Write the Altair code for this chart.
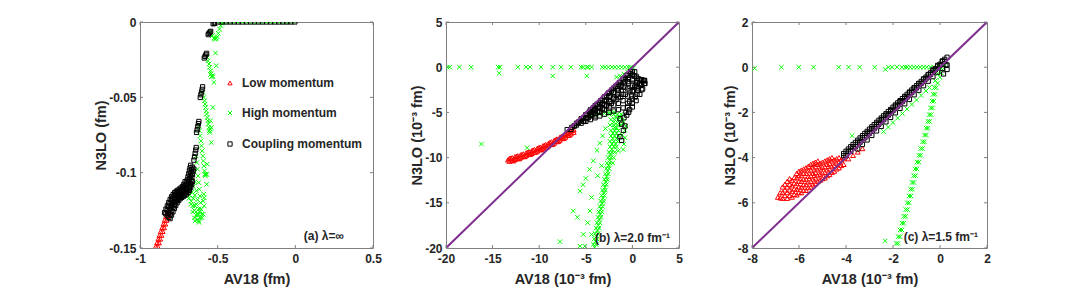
import altair as alt
import pandas as pd

FONT = "Liberation Sans"
TXT = "#262626"
BOX = "#808080"
RED = "#FF0000"
GREEN = "#00FF00"
BLACK = "#000000"
PURPLE = "#7E2F8E"
X_SHAPE = "M-1,-1L1,1M1,-1L-1,1"

legend_labels = ["Low momentum", "High momentum", "Coupling momentum"]

# ---------------- panel (a) ----------------
a_xticks = [-1, -0.5, 0, 0.5]
a_yticks = [-0.15, -0.1, -0.05, 0]

a_red = [
    (-0.906, -0.1515), (-0.894, -0.1515), (-0.898, -0.1490), (-0.886, -0.1490),
    (-0.890, -0.1465), (-0.878, -0.1465), (-0.882, -0.1440), (-0.870, -0.1440),
    (-0.874, -0.1415), (-0.862, -0.1415), (-0.866, -0.1390), (-0.854, -0.1390),
    (-0.857, -0.1365), (-0.845, -0.1365), (-0.849, -0.1340), (-0.837, -0.1340),
    (-0.841, -0.1315), (-0.829, -0.1315), (-0.833, -0.1290), (-0.821, -0.1290),
    (-0.825, -0.1265), (-0.813, -0.1265),
]

a_green_row = [-0.490, -0.460, -0.430, -0.400, -0.370, -0.340, -0.310, -0.280, -0.250,
               -0.220, -0.190, -0.160, -0.130, -0.100, -0.070, -0.040, -0.010]

a_green = [
    (-0.546, -0.0069), (-0.535, -0.0091), (-0.524, -0.0106), (-0.519, -0.0113), (-0.514, -0.0113),
    (-0.509, -0.0106), (-0.503, -0.0098), (-0.496, -0.0075), (-0.488, -0.0047), (-0.479, -0.0024),
    (-0.471, -0.0009),
    (-0.567, -0.0235), (-0.563, -0.0257), (-0.556, -0.0279), (-0.552, -0.0301), (-0.546, -0.0324),
    (-0.541, -0.0341), (-0.535, -0.0357), (-0.531, -0.0363), (-0.514, -0.0206), (-0.509, -0.0290),
    (-0.524, -0.0401), (-0.546, -0.0349), (-0.541, -0.0363),
    (-0.595, -0.0468), (-0.589, -0.0501), (-0.585, -0.0523), (-0.581, -0.0545), (-0.578, -0.0567),
    (-0.574, -0.0589), (-0.571, -0.0611), (-0.567, -0.0634), (-0.563, -0.0656), (-0.560, -0.0678),
    (-0.556, -0.0700), (-0.553, -0.0722), (-0.550, -0.0733), (-0.531, -0.0567), (-0.546, -0.0656),
    (-0.541, -0.0700), (-0.548, -0.0711), (-0.541, -0.0800),
    (-0.621, -0.0689), (-0.617, -0.0722), (-0.612, -0.0756), (-0.608, -0.0789), (-0.604, -0.0822),
    (-0.600, -0.0855), (-0.596, -0.0889), (-0.592, -0.0922), (-0.589, -0.0955), (-0.585, -0.0988),
    (-0.582, -0.1011), (-0.579, -0.1021), (-0.567, -0.0944), (-0.570, -0.1011), (-0.576, -0.1011),
    (-0.571, -0.1077),
    (-0.638, -0.0889), (-0.634, -0.0933), (-0.630, -0.0977), (-0.626, -0.1021), (-0.622, -0.1066),
    (-0.618, -0.1110), (-0.614, -0.1154), (-0.610, -0.1199), (-0.606, -0.1243), (-0.603, -0.1276),
    (-0.600, -0.1299), (-0.589, -0.1143), (-0.593, -0.1188), (-0.587, -0.1221), (-0.593, -0.1276),
    (-0.587, -0.1166),
    (-0.690, -0.112), (-0.680, -0.115), (-0.670, -0.119), (-0.660, -0.122), (-0.650, -0.125),
    (-0.640, -0.128), (-0.675, -0.108), (-0.666, -0.113), (-0.657, -0.117), (-0.648, -0.122),
    (-0.639, -0.126), (-0.630, -0.131), (-0.665, -0.103), (-0.656, -0.109), (-0.647, -0.115),
    (-0.638, -0.121), (-0.629, -0.127), (-0.620, -0.133), (-0.655, -0.099), (-0.646, -0.106),
    (-0.637, -0.112), (-0.629, -0.118), (-0.620, -0.124), (-0.612, -0.130), (-0.685, -0.117),
    (-0.672, -0.121), (-0.661, -0.126), (-0.650, -0.130), (-0.625, -0.128), (-0.615, -0.126),
    (-0.622, -0.132), (-0.645, -0.132),
]

a_black_row = [-0.497, -0.471, -0.445, -0.419, -0.393, -0.367, -0.341, -0.315, -0.289, -0.263,
               -0.237, -0.211, -0.185, -0.159, -0.133, -0.107, -0.081, -0.055, -0.029, -0.003]

a_black = [
    (-0.824, -0.1285), (-0.815, -0.1262), (-0.806, -0.1240), (-0.797, -0.1218), (-0.788, -0.1198),
    (-0.779, -0.1180), (-0.769, -0.1165), (-0.759, -0.1153), (-0.749, -0.1144), (-0.739, -0.1137),
    (-0.729, -0.1130), (-0.719, -0.1122), (-0.709, -0.1112), (-0.700, -0.1098), (-0.692, -0.1080),
    (-0.686, -0.1060), (-0.681, -0.1040), (-0.676, -0.1020), (-0.672, -0.1000), (-0.668, -0.0980),
    (-0.664, -0.0963),
    (-0.834, -0.1273), (-0.825, -0.1250), (-0.816, -0.1228), (-0.807, -0.1206), (-0.798, -0.1186),
    (-0.789, -0.1168), (-0.779, -0.1153), (-0.769, -0.1141), (-0.759, -0.1132), (-0.749, -0.1125),
    (-0.739, -0.1118), (-0.729, -0.1110), (-0.719, -0.1100), (-0.710, -0.1086), (-0.702, -0.1068),
    (-0.696, -0.1048), (-0.691, -0.1028), (-0.686, -0.1008), (-0.682, -0.0988), (-0.678, -0.0968),
    (-0.674, -0.0951),
    (-0.814, -0.1297), (-0.805, -0.1274), (-0.796, -0.1252), (-0.787, -0.1230), (-0.778, -0.1210),
    (-0.769, -0.1192), (-0.759, -0.1177), (-0.749, -0.1165), (-0.739, -0.1156), (-0.729, -0.1149),
    (-0.719, -0.1142), (-0.709, -0.1134), (-0.699, -0.1124), (-0.690, -0.1110), (-0.682, -0.1092),
    (-0.676, -0.1072), (-0.671, -0.1052), (-0.666, -0.1032), (-0.662, -0.1012), (-0.658, -0.0992),
    (-0.654, -0.0975),
    (-0.842, -0.1265), (-0.833, -0.1242), (-0.824, -0.1220), (-0.815, -0.1198), (-0.806, -0.1178),
    (-0.797, -0.1160), (-0.787, -0.1145), (-0.777, -0.1133), (-0.767, -0.1124), (-0.757, -0.1117),
    (-0.747, -0.1110), (-0.737, -0.1102), (-0.727, -0.1092), (-0.718, -0.1078), (-0.710, -0.1060),
    (-0.806, -0.1305), (-0.797, -0.1282), (-0.788, -0.1260), (-0.779, -0.1238), (-0.770, -0.1218),
    (-0.761, -0.1200), (-0.751, -0.1185), (-0.741, -0.1173), (-0.731, -0.1164), (-0.721, -0.1157),
    (-0.711, -0.1150), (-0.701, -0.1142), (-0.691, -0.1132), (-0.682, -0.1118), (-0.674, -0.1100),
    (-0.668, -0.1080), (-0.663, -0.1060),
    (-0.653, -0.0917), (-0.649, -0.0895), (-0.645, -0.0872), (-0.641, -0.0850), (-0.638, -0.0833),
    (-0.636, -0.0733), (-0.632, -0.0715), (-0.628, -0.0695), (-0.624, -0.0675), (-0.621, -0.0660),
    (-0.612, -0.0501), (-0.608, -0.0483), (-0.604, -0.0465), (-0.600, -0.0447), (-0.597, -0.0430),
    (-0.586, -0.0239), (-0.581, -0.0228), (-0.576, -0.0218), (-0.571, -0.0208),
    (-0.561, -0.0084), (-0.556, -0.0075), (-0.550, -0.0068), (-0.545, -0.0062),
    (-0.529, -0.0012), (-0.521, -0.0009), (-0.514, -0.0006),
]

# ---------------- panel (b) ----------------
b_ticks = [-20, -15, -10, -5, 0, 5]

b_red = [
    (-13.35, -10.25),
    (-13.2, -10.10), (-13.2, -10.40), (-12.9, -10.00), (-12.9, -10.30), (-12.6, -9.90), (-12.6, -10.20),
    (-12.3, -9.80), (-12.3, -10.10), (-12.0, -9.70), (-12.0, -10.00), (-11.7, -9.59), (-11.7, -9.89),
    (-11.4, -9.47), (-11.4, -9.77), (-11.1, -9.35), (-11.1, -9.65), (-10.8, -9.23), (-10.8, -9.53),
    (-10.5, -9.10), (-10.5, -9.40), (-10.2, -8.97), (-10.2, -9.27), (-9.9, -8.84), (-9.9, -9.14),
    (-9.6, -8.70), (-9.6, -9.00), (-9.3, -8.55), (-9.3, -8.85), (-9.0, -8.40), (-9.0, -8.70),
    (-8.7, -8.25), (-8.7, -8.55), (-8.4, -8.10), (-8.4, -8.40), (-8.1, -7.94), (-8.1, -8.24),
    (-7.8, -7.77), (-7.8, -8.07), (-7.5, -7.60), (-7.5, -7.90), (-7.2, -7.43), (-7.2, -7.73),
    (-6.9, -7.25), (-6.9, -7.55), (-6.6, -7.07), (-6.6, -7.37), (-6.3, -6.90), (-6.3, -7.20),
    (-13.05, -10.05), (-12.45, -9.85), (-11.85, -9.65), (-11.25, -9.41), (-10.65, -9.16),
    (-10.05, -8.90), (-9.45, -8.63), (-8.85, -8.33), (-8.25, -8.02), (-7.65, -7.69),
    (-7.05, -7.34), (-6.45, -6.98),
    (-12.75, -10.35), (-12.15, -10.12), (-11.55, -9.88), (-10.95, -9.64), (-10.35, -9.38),
    (-9.75, -9.11), (-9.15, -8.82), (-8.55, -8.52), (-7.95, -8.20), (-7.35, -7.86),
    (-6.75, -7.50),
]

b_green_row = [-19.86, -19.6, -18.57, -17.3, -14.4, -14.2, -12.3, -11.4, -11.0, -9.8, -8.55, -7.66,
               -6.6, -5.5, -5.27, -4.9, -4.73, -4.37, -3.23, -2.94, -2.58, -2.2, -1.87, -1.5,
               -1.15, -0.8, -0.44, -0.2]

b_green = [
    (-14.3, -0.67), (-8.55, -0.96), (-4.9, -0.96), (-16.2, -8.5), (-11.3, -8.9),
    (0.1, -0.1), (-0.2, -0.35), (-0.5, -0.55), (-0.9, -0.75), (-1.3, -0.95), (-1.7, -1.1),
    (-4.5, -5.45), (-4.0, -5.3), (-3.5, -5.2), (-3.0, -5.1), (-2.5, -5.0), (-2.0, -4.95),
    (-2.5, -5.2), (-2.0, -5.2), (-1.6, -5.2), (-1.2, -5.2), (-1.8, -5.5), (-1.4, -5.5),
    (-2.3, -5.8), (-1.9, -5.8), (-1.5, -5.8), (-1.1, -5.8), (-2.0, -6.1), (-1.6, -6.1),
    (-2.4, -6.4), (-2.0, -6.4), (-1.6, -6.4), (-1.2, -6.4), (-1.9, -6.7), (-1.7, -6.7),
    (-2.3, -7.0), (-1.9, -7.0), (-1.5, -7.0), (-2.1, -7.3), (-1.7, -7.3),
    (-2.3, -7.6), (-1.9, -7.6), (-1.5, -7.6), (-2.1, -7.9), (-1.7, -7.9),
    (-2.4, -8.2), (-2.0, -8.2), (-1.6, -8.2), (-2.2, -8.5), (-1.8, -8.5),
    (-2.4, -8.8), (-2.0, -8.8), (-1.7, -8.8), (-2.2, -9.1),
    (-2.5, -9.4), (-2.2, -9.4), (-1.9, -9.4), (-2.35, -9.7),
    (-2.6, -10.0), (-2.3, -10.0), (-2.0, -10.0), (-2.45, -10.3),
    (-2.7, -10.6), (-2.4, -10.6), (-2.1, -10.6), (-2.55, -10.9),
    (-2.8, -11.2), (-2.5, -11.2), (-2.65, -11.5), (-2.9, -11.8), (-2.6, -11.8), (-2.75, -12.1),
    (-3.0, -12.4), (-2.7, -12.4), (-2.85, -12.7), (-3.1, -13.0), (-2.8, -13.0), (-2.95, -13.3),
    (-3.2, -13.6), (-2.9, -13.6), (-3.05, -13.9), (-3.3, -14.2), (-3.0, -14.2), (-3.15, -14.5),
    (-3.4, -14.8), (-3.1, -14.8), (-3.25, -15.1), (-3.5, -15.4), (-3.2, -15.4), (-3.35, -15.7),
    (-3.6, -16.0), (-3.3, -16.0), (-3.45, -16.3), (-3.7, -16.6), (-3.4, -16.6), (-3.55, -16.9),
    (-3.8, -17.2), (-3.5, -17.2), (-3.65, -17.5), (-3.9, -17.8), (-3.6, -17.8), (-3.75, -18.1),
    (-4.0, -18.4), (-3.7, -18.4), (-3.85, -18.7), (-4.1, -19.0), (-3.8, -19.0), (-3.95, -19.3),
    (-4.2, -19.6), (-3.9, -19.6), (-4.05, -19.9),
    (-2.9, -6.8), (-3.2, -7.6), (-3.5, -8.4), (-3.8, -9.2), (-4.2, -10.35), (-4.6, -11.3),
    (-5.0, -12.3), (-5.3, -13.0), (-5.6, -13.7),
    (-7.77, -19.3), (-6.34, -15.9), (-5.27, -18.5), (-4.38, -18.5), (-5.62, -19.8), (-5.1, -19.8),
    (-3.3, -10.9), (-3.73, -12.0), (-4.38, -14.4), (-4.55, -15.9), (-1.51, -9.25), (-4.8, -17.2),
    (-5.9, -16.6),
    (-1.3, -5.5), (-1.0, -6.0), (-0.8, -7.0), (-1.1, -7.5), (-0.7, -6.5), (-0.9, -8.5),
    (-1.0, -9.1), (-0.8, -7.8),
]

b_black = [
    (-7.0, -6.9), (-6.5, -6.65), (-6.0, -6.4), (-6.0, -6.2),
    (-5.5, -6.2), (-5.5, -5.95), (-5.5, -5.7), (-5.0, -6.0), (-5.0, -5.6), (-5.0, -5.25),
    (-4.5, -5.8), (-4.5, -5.4), (-4.5, -5.0), (-4.5, -4.7),
    (-4.0, -5.6), (-4.0, -5.1), (-4.0, -4.6), (-4.0, -4.25),
    (-3.5, -5.4), (-3.5, -4.9), (-3.5, -4.4), (-3.5, -3.9),
    (-3.0, -5.2), (-3.0, -4.7), (-3.0, -4.2), (-3.0, -3.7), (-3.0, -3.3),
    (-2.5, -5.0), (-2.5, -4.4), (-2.5, -3.8), (-2.5, -3.2), (-2.5, -2.8),
    (-2.0, -4.85), (-2.0, -4.2), (-2.0, -3.5), (-2.0, -2.8), (-2.0, -2.3),
    (-1.5, -4.7), (-1.5, -4.0), (-1.5, -3.3), (-1.5, -2.6), (-1.5, -1.9),
    (-1.0, -4.5), (-1.0, -3.7), (-1.0, -3.0), (-1.0, -2.2), (-1.0, -1.4),
    (-0.5, -4.0), (-0.5, -3.2), (-0.5, -2.4), (-0.5, -1.6), (-0.5, -0.9),
    (0.0, -3.5), (0.0, -2.7), (0.0, -2.0), (0.0, -1.3), (0.0, -0.5),
    (0.5, -3.0), (0.5, -2.3), (0.5, -1.7), (0.5, -1.2),
    (1.0, -2.5), (1.0, -1.9), (1.0, -1.4), (1.3, -1.8), (1.3, -1.45),
    (-6.25, -6.5), (-5.75, -6.05), (-5.25, -5.6), (-4.75, -5.15), (-4.25, -4.65), (-3.75, -4.15),
    (-3.25, -3.65), (-2.75, -3.15), (-2.25, -2.65), (-1.75, -2.15), (-1.25, -1.7), (-0.75, -1.2),
    (-0.25, -0.7), (0.25, -0.5),
    (-5.25, -5.95), (-4.75, -5.6), (-4.25, -5.25), (-3.75, -4.9), (-3.25, -4.6), (-2.75, -4.3),
    (-2.25, -4.0), (-1.75, -3.6), (-1.25, -3.3), (-0.75, -3.0), (-0.25, -2.6), (0.25, -2.2),
    (0.75, -1.8),
    (-6.6, -6.9), (-6.2, -6.5), (-5.8, -6.1), (-5.4, -5.7), (-5.0, -5.3), (-4.6, -4.9),
    (-4.2, -4.5), (-3.8, -4.1), (-3.4, -3.7), (-3.0, -3.3), (-2.6, -2.9), (-2.2, -2.5),
    (-1.8, -2.1), (-1.4, -1.7), (-1.0, -1.3), (-0.6, -0.9), (-0.2, -0.5),
    (-5.2, -6.0), (-4.8, -5.6), (-4.4, -5.2), (-4.0, -4.8), (-3.6, -4.4), (-3.2, -4.0),
    (-2.8, -3.6), (-2.4, -3.2), (-2.0, -2.8), (-1.6, -2.4), (-1.2, -2.0), (-0.8, -1.6),
    (-0.4, -1.2), (0.0, -0.8),
    (-4.0, -5.4), (-3.6, -5.0), (-3.2, -4.6), (-2.8, -4.2), (-2.4, -3.8), (-2.0, -3.4),
    (-1.6, -3.0), (-1.2, -2.6), (-0.8, -2.2), (-0.4, -1.8), (0.0, -1.4), (0.4, -1.0),
    (-0.9, -5.6), (-0.7, -5.0), (-0.5, -4.4), (-0.3, -3.8), (-0.1, -3.2), (0.1, -2.6), (0.3, -2.0),
    (0.5, -1.5), (-0.6, -5.3), (-0.3, -4.7), (0.0, -4.0), (0.3, -3.3), (0.6, -2.6), (0.9, -2.0),
    (1.2, -1.5), (-0.4, -5.0), (0.0, -4.4), (0.4, -3.7), (0.8, -3.0), (1.1, -2.4), (1.35, -1.8),
    (0.7, -1.3), (1.0, -1.4), (1.3, -1.5), (0.2, -1.0), (-0.2, -0.5),
    (-1.33, -5.7), (-1.15, -6.3), (-0.97, -7.0), (-1.33, -7.7), (-1.15, -8.1), (-0.8, -6.5),
]

# ---------------- panel (c) ----------------
c_ticks = [-8, -6, -4, -2, 0, 2]

c_red = [
    (-6.9, -5.75),
    (-6.7, -5.80), (-6.7, -5.55), (-6.7, -5.30),
    (-6.5, -5.80), (-6.5, -5.55), (-6.5, -5.30), (-6.5, -5.05),
    (-6.3, -5.75), (-6.3, -5.50), (-6.3, -5.25), (-6.3, -5.00),
    (-6.1, -5.65), (-6.1, -5.40), (-6.1, -5.15), (-6.1, -4.90), (-6.1, -4.70),
    (-5.9, -5.55), (-5.9, -5.30), (-5.9, -5.05), (-5.9, -4.80), (-5.9, -4.55),
    (-5.7, -5.45), (-5.7, -5.20), (-5.7, -4.95), (-5.7, -4.70), (-5.7, -4.45),
    (-5.5, -5.30), (-5.5, -5.05), (-5.5, -4.80), (-5.5, -4.55), (-5.5, -4.30),
    (-5.3, -5.15), (-5.3, -4.90), (-5.3, -4.65), (-5.3, -4.40), (-5.3, -4.20),
    (-5.1, -5.00), (-5.1, -4.75), (-5.1, -4.50), (-5.1, -4.25),
    (-4.9, -4.90), (-4.9, -4.65), (-4.9, -4.40), (-4.9, -4.15),
    (-4.7, -4.75), (-4.7, -4.50), (-4.7, -4.25), (-4.7, -4.05),
    (-4.5, -4.60), (-4.5, -4.35), (-4.5, -4.10),
    (-4.3, -4.45), (-4.3, -4.20), (-4.3, -4.00),
    (-4.1, -4.30), (-4.1, -4.05),
    (-6.8, -5.78), (-6.8, -5.55),
    (-6.6, -5.68), (-6.6, -5.43), (-6.6, -5.18),
    (-6.4, -5.68), (-6.4, -5.43), (-6.4, -5.18), (-6.4, -4.93),
    (-6.2, -5.63), (-6.2, -5.38), (-6.2, -5.13), (-6.2, -4.88),
    (-6.0, -5.55), (-6.0, -5.30), (-6.0, -5.05), (-6.0, -4.80), (-6.0, -4.60),
    (-5.8, -5.45), (-5.8, -5.20), (-5.8, -4.95), (-5.8, -4.70), (-5.8, -4.50),
    (-5.6, -5.33), (-5.6, -5.08), (-5.6, -4.83), (-5.6, -4.58), (-5.6, -4.38),
    (-5.4, -5.20), (-5.4, -4.95), (-5.4, -4.70), (-5.4, -4.45), (-5.4, -4.25),
    (-5.2, -5.05), (-5.2, -4.80), (-5.2, -4.55), (-5.2, -4.30), (-5.2, -4.15),
    (-5.0, -4.93), (-5.0, -4.68), (-5.0, -4.43), (-5.0, -4.20),
    (-4.8, -4.80), (-4.8, -4.55), (-4.8, -4.30), (-4.8, -4.10),
    (-4.6, -4.65), (-4.6, -4.40), (-4.6, -4.15), (-4.6, -4.00),
    (-4.4, -4.50), (-4.4, -4.25), (-4.4, -4.05),
    (-4.2, -4.35), (-4.2, -4.10),
    (-3.9, -4.05), (-3.7, -3.90), (-3.5, -3.75), (-3.3, -3.60),
]

c_green_row = [
    (-7.89, -0.05), (-6.75, 0), (-6.01, 0), (-5.38, 0), (-4.31, 0), (-3.89, 0), (-3.42, 0),
    (-2.78, 0), (-2.33, -0.1), (-2.19, 0), (-2.04, 0), (-1.83, 0), (-1.62, 0), (-1.48, 0),
    (-1.40, 0), (-1.26, 0), (-1.12, 0), (-0.98, 0), (-0.84, 0), (-0.70, 0), (-0.56, 0),
    (-0.41, 0), (-0.27, 0), (-0.13, 0), (0.0, 0),
]

c_green = [
    (-3.74, -3.03), (-2.33, -7.69),
    (-2.4, -2.85), (-2.2, -2.65), (-2.0, -2.45), (-1.8, -2.25), (-1.6, -2.05), (-1.4, -1.85),
    (-1.2, -1.65), (-1.0, -1.45), (-0.8, -1.25), (-0.6, -1.05), (-0.45, -0.9),
    (-0.1, -0.3), (0.1, -0.1), (0.2, 0.1), (0.0, -0.45), (-0.2, -0.6), (-0.1, -0.7), (0.05, -0.25),
    (-0.24, -0.9), (-0.16, -0.9), (-0.29, -1.2), (-0.21, -1.2), (-0.34, -1.5), (-0.26, -1.5),
    (-0.40, -1.8), (-0.32, -1.8), (-0.46, -2.1), (-0.38, -2.1), (-0.52, -2.4), (-0.44, -2.4),
    (-0.59, -2.7), (-0.51, -2.7), (-0.66, -3.0), (-0.58, -3.0), (-0.74, -3.3), (-0.66, -3.3),
    (-0.82, -3.6), (-0.74, -3.6), (-0.90, -3.9), (-0.82, -3.9), (-0.98, -4.2), (-0.90, -4.2),
    (-1.06, -4.5), (-0.98, -4.5), (-1.12, -4.8), (-1.04, -4.8), (-1.19, -5.1), (-1.11, -5.1),
    (-1.25, -5.4), (-1.17, -5.4), (-1.32, -5.7), (-1.24, -5.7), (-1.39, -6.0), (-1.31, -6.0),
    (-1.46, -6.3), (-1.38, -6.3), (-1.54, -6.6), (-1.46, -6.6), (-1.62, -6.9), (-1.54, -6.9),
    (-1.70, -7.2), (-1.62, -7.2), (-1.78, -7.5), (-1.70, -7.5), (-1.86, -7.8), (-1.78, -7.8),
    (-1.94, -8.1), (-1.86, -8.1),
]

c_black = [
    (-4.1, -3.82), (-4.0, -3.72), (-3.9, -3.62), (-3.8, -3.52), (-3.7, -3.42), (-3.6, -3.33),
    (-3.5, -3.23), (-3.4, -3.13), (-3.3, -3.03), (-3.2, -2.93), (-3.1, -2.84), (-3.0, -2.74),
    (-2.9, -2.64), (-2.8, -2.54), (-2.7, -2.44), (-2.6, -2.35), (-2.5, -2.25), (-2.4, -2.15),
    (-2.3, -2.06), (-2.2, -1.96), (-2.1, -1.87), (-2.0, -1.77), (-1.9, -1.67), (-1.8, -1.58),
    (-1.7, -1.48), (-1.6, -1.39), (-1.5, -1.29), (-1.4, -1.20), (-1.3, -1.10), (-1.2, -1.01),
    (-1.1, -0.91), (-1.0, -0.82), (-0.9, -0.72), (-0.8, -0.63), (-0.7, -0.53), (-0.6, -0.44),
    (-0.5, -0.34), (-0.4, -0.25), (-0.3, -0.15), (-0.2, -0.06), (-0.1, 0.04), (0.0, 0.13),
    (0.1, 0.25), (0.2, 0.35), (0.3, 0.44),
    (-4.1, -3.92), (-3.9, -3.72), (-3.7, -3.52), (-3.5, -3.32), (-3.3, -3.12), (-3.1, -2.92),
    (-2.9, -2.72), (-2.7, -2.52), (-2.5, -2.32), (-2.3, -2.12), (-2.1, -1.92), (-1.9, -1.72),
    (-1.7, -1.52), (-1.5, -1.32), (-1.3, -1.12), (-1.1, -0.92), (-0.9, -0.72), (-0.7, -0.52),
    (-0.5, -0.32), (-0.3, -0.12), (-0.1, 0.08), (0.1, 0.28),
    (-4.0, -3.92), (-3.8, -3.72), (-3.6, -3.52), (-3.4, -3.32), (-3.2, -3.12), (-3.0, -2.92),
    (-2.8, -2.72), (-2.6, -2.52), (-2.4, -2.32), (-2.2, -2.12), (-2.0, -1.92), (-1.8, -1.72),
    (-1.6, -1.52), (-1.4, -1.32), (-1.2, -1.12), (-1.0, -0.92), (-0.8, -0.72), (-0.6, -0.52),
    (-0.4, -0.32), (-0.2, -0.12), (0.0, 0.08), (0.2, 0.25),
    (-3.5, -3.62), (-3.3, -3.42), (-3.1, -3.22), (-2.9, -3.02), (-2.7, -2.82), (-2.5, -2.62),
    (-2.3, -2.42), (-2.1, -2.22), (-1.9, -2.02), (-1.7, -1.82), (-1.5, -1.62), (-1.3, -1.42),
    (-1.1, -1.22), (-0.9, -1.02), (-0.7, -0.82), (-0.5, -0.62), (-0.3, -0.42), (-0.1, -0.22),
    (0.1, -0.05), (0.25, 0.1),
    (0.15, -0.3), (0.3, -0.1), (0.3, 0.1),
]


def pts_df(pts):
    return pd.DataFrame(pts, columns=["x", "y"])


def row_df(xs, y=0.0):
    return pd.DataFrame({"x": xs, "y": [y] * len(xs)})


def panel(reds, greens, blacks, xdom, ydom, xticks, yticks, xtitle, ytitle,
          note, note_x, note_y, W, H, diag=False, legend=False):
    xs = alt.Scale(domain=xdom, nice=False, zero=False)
    ys = alt.Scale(domain=ydom, nice=False, zero=False)
    common = dict(labelExpr="'' + datum.value", ticks=False, domain=False, grid=False,
                  labelFlush=False, labelOverlap=False)
    xa = alt.Axis(values=xticks, title=xtitle, labelPadding=5, titlePadding=8, **common)
    ya = alt.Axis(values=yticks, title=ytitle, labelPadding=4, titlePadding=0, **common)

    def X(f):
        return alt.X(f, scale=xs, axis=xa, title=xtitle)

    def Y(f):
        return alt.Y(f, scale=ys, axis=ya, title=ytitle)

    def scatter(df, shape, color, size):
        return alt.Chart(df).mark_point(
            shape=shape, filled=False, color=color, size=size, strokeWidth=1.0,
            opacity=1, clip=True,
        ).encode(x=X("x:Q"), y=Y("y:Q"))

    layers = []
    for df in reds:
        layers.append(scatter(df, "triangle-up", RED, 24))
    for df in greens:
        layers.append(scatter(df, X_SHAPE, GREEN, 20))
    for df in blacks:
        layers.append(scatter(df, "square", BLACK, 18))
    if diag:
        ddf = pd.DataFrame({"x": xdom, "y": ydom})
        layers.append(alt.Chart(ddf).mark_line(color=PURPLE, strokeWidth=2, clip=True).encode(
            x=X("x:Q"), y=Y("y:Q")))
    # inward tick marks (MATLAB style)
    txdf = pd.DataFrame({"x": xticks})
    tydf = pd.DataFrame({"y": yticks})
    rule = dict(color=BOX, strokeWidth=1)
    layers.append(alt.Chart(txdf).mark_rule(**rule).encode(
        x=X("x:Q"), y=alt.value(H), y2=alt.value(H - 3)))
    layers.append(alt.Chart(txdf).mark_rule(**rule).encode(
        x=X("x:Q"), y=alt.value(0), y2=alt.value(3)))
    layers.append(alt.Chart(tydf).mark_rule(**rule).encode(
        y=Y("y:Q"), x=alt.value(0), x2=alt.value(3)))
    layers.append(alt.Chart(tydf).mark_rule(**rule).encode(
        y=Y("y:Q"), x=alt.value(W), x2=alt.value(W - 3)))
    layers.append(alt.Chart(pd.DataFrame({"t": [note]})).mark_text(
        align="right", baseline="middle", font=FONT, fontSize=12, fontWeight="bold", color=TXT
    ).encode(text="t:N", x=alt.value(note_x), y=alt.value(note_y)))
    if legend:
        items = [(legend_labels[0], "triangle-up", RED, 61),
                 (legend_labels[1], X_SHAPE, GREEN, 91),
                 (legend_labels[2], "square", BLACK, 122)]
        for lab, shp, col, yy in items:
            ldf = pd.DataFrame({"t": [lab]})
            layers.append(alt.Chart(ldf).mark_point(
                shape=shp, filled=False, color=col, size=18, strokeWidth=1, opacity=1
            ).encode(x=alt.value(90), y=alt.value(yy)))
            layers.append(alt.Chart(ldf).mark_text(
                align="left", baseline="middle", font=FONT, fontSize=12, fontWeight="bold", color=TXT
            ).encode(text="t:N", x=alt.value(102), y=alt.value(yy)))
    return alt.layer(*layers).properties(width=W, height=H)


pa = panel(
    [pts_df(a_red)],
    [pts_df(a_green), row_df(a_green_row)],
    [pts_df(a_black), row_df(a_black_row)],
    [-1, 0.5], [-0.15, 0], a_xticks, a_yticks,
    "AV18 (fm)", "N3LO (fm)", "(a) \u03bb=\u221e", 204, 214, 233, 226, legend=True,
)
pb = panel(
    [pts_df(b_red)],
    [row_df(b_green_row), pts_df(b_green)],
    [pts_df(b_black)],
    [-20, 5], [-20, 5], b_ticks, b_ticks,
    "AV18 (10\u207b\u00b3  fm)", "N3LO (10\u207b\u00b3 fm)", "(b) \u03bb=2.0 fm\u207b\u00b9", 224, 216, 233, 226,
    diag=True,
)
pc = panel(
    [pts_df(c_red)],
    [pts_df(c_green_row), pts_df(c_green)],
    [pts_df(c_black)],
    [-8, 2], [-8, 2], c_ticks, c_ticks,
    "AV18 (10\u207b\u00b3  fm)", "N3LO (10\u207b\u00b3 fm)", "(c) \u03bb=1.5 fm\u207b\u00b9", 226, 215, 235, 226,
    diag=True,
)

chart = alt.hconcat(pa, pb, pc, spacing=73, bounds="flush").properties(
    padding={"left": 85, "top": 7, "right": 5, "bottom": 2},
    background="white",
).configure_view(
    stroke=BOX, strokeWidth=1,
).configure_axis(
    labelFont=FONT, titleFont=FONT, labelFontSize=12, titleFontSize=14.5,
    labelFontWeight="bold", titleFontWeight="bold", labelColor=TXT, titleColor=TXT,
)

chart.save("out.html", embed_options={"renderer": "svg", "actions": False})
